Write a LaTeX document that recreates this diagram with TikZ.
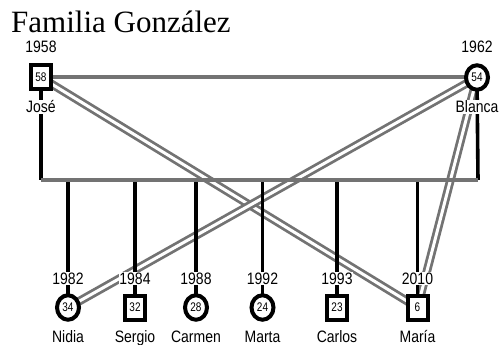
\documentclass[tikz,border=0pt]{standalone}
\usepackage{fontspec}
\setmainfont{Liberation Sans}
\newfontfamily\titlefont{Liberation Serif}
\usetikzlibrary{shapes.geometric}
\pgfdeclarelayer{bg}
\pgfsetlayers{bg,main}
\newcommand{\vst}[1]{\scalebox{1}[1.18]{#1}}
\newcommand{\agetxt}[1]{\fontsize{10}{12}\selectfont\scalebox{1}[1.25]{#1}}
\definecolor{lgray}{RGB}{115,115,115}
\begin{document}
\begin{tikzpicture}[x=1pt,y=-1pt,
  male/.style={rectangle, draw=black, line width=4pt, fill=white, minimum width=20pt, minimum height=24pt, inner sep=0pt},
  fem/.style={ellipse, draw=black, line width=4pt, fill=white, minimum width=22pt, minimum height=24.5pt, inner sep=0pt},
  lbl/.style={fill=white, inner sep=0.6pt, anchor=base, font=\fontsize{14}{16}\selectfont},
  dbl/.style={draw=lgray, line width=2.8pt, double=white, double distance=3pt},
  marr/.style={draw=lgray, line width=4pt},
  sib/.style={draw=lgray, line width=4pt},
  desc/.style={draw=black, line width=3.6pt}]
\useasboundingbox (0,0) rectangle (501,345);

\node[anchor=base west, inner sep=0pt, font=\titlefont\fontsize{31}{36}\selectfont] (title) at (11,33) {Familia González};

% parents
\node[male] (jose) at (41,77.5) {\agetxt{58}};
\node[fem] (blanca) at (477,77.5) {\agetxt{54}};
\node[lbl] (yjose) at (41,53) {\vst{1958}};
\node[lbl] (njose) at (41,113) {\vst{José}};
\node[lbl] (yblanca) at (477,53) {\vst{1962}};
\node[lbl] (nblanca) at (477,113) {\vst{Blanca}};

% children
\node[fem]  (nidia)  at (68,307.5)  {\agetxt{34}};
\node[male] (sergio) at (135,307.5) {\agetxt{32}};
\node[fem]  (carmen) at (196,307.5) {\agetxt{28}};
\node[fem]  (marta)  at (262.5,307.5) {\agetxt{24}};
\node[male] (carlos) at (337,307.5) {\agetxt{23}};
\node[male] (maria)  at (417.5,307.5) {\agetxt{6}};

\node[lbl] (ynidia)  at (68,284)  {\vst{1982}};
\node[lbl] (ysergio) at (135,284) {\vst{1984}};
\node[lbl] (ycarmen) at (196,284) {\vst{1988}};
\node[lbl] (ymarta)  at (262.5,284) {\vst{1992}};
\node[lbl] (ycarlos) at (337,284) {\vst{1993}};
\node[lbl] (ymaria)  at (417.5,284) {\vst{2010}};

\node[lbl] (nnidia)  at (68,342)  {\vst{Nidia}};
\node[lbl] (nsergio) at (135,342) {\vst{Sergio}};
\node[lbl] (ncarmen) at (196,342) {\vst{Carmen}};
\node[lbl] (nmarta)  at (262.5,342) {\vst{Marta}};
\node[lbl] (ncarlos) at (337,342) {\vst{Carlos}};
\node[lbl] (nmaria)  at (417.5,342) {\vst{María}};

\coordinate (barL) at (41,180);
\coordinate (barR) at (478,180);

\begin{pgfonlayer}{bg}
  \draw[dbl] (jose.center) -- (maria.center);
  \draw[dbl] (blanca.center) -- (nidia.center);
  \draw[dbl] (blanca.center) -- (maria.center);
  \draw[marr] (jose.center) -- (blanca.center);
  \draw[desc] (jose.center) -- (barL);
  \draw[desc] (blanca.center) -- (barR);
  \foreach \c in {nidia,sergio,carmen,marta,carlos,maria}
    \draw[desc] (\c.center) -- (\c |- barL);
  \draw[sib] (barL) -- (barR);
\end{pgfonlayer}
\end{tikzpicture}
\end{document}
